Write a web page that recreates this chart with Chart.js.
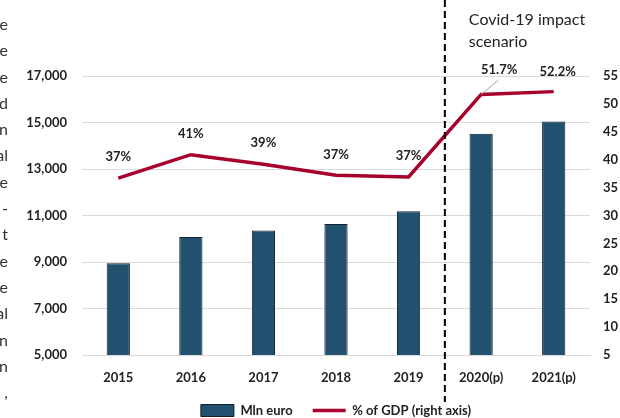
<!DOCTYPE html>
<html>
<head>
<meta charset="utf-8">
<script src="https://cdn.jsdelivr.net/npm/chart.js@4.4.0/dist/chart.umd.min.js"></script>
<style>
body { margin: 0; background: #fff; }
#wrap { position: relative; width: 620px; height: 418px; overflow: hidden; }
#gdpChart { position: absolute; left: 0; top: 0; }
#side { position: absolute; left: -200px; top: 11px; width: 208px; text-align: right;
        font: 16px Lato, sans-serif; line-height: 26.3px; color: #333; }
</style>
</head>
<body>
<div id="wrap">
<canvas id="gdpChart" width="620" height="418"></canvas>
<div id="side">e<br>e<br>e<br>d<br>n<br>al<br>e<br>-<br>t<br>e<br>e<br>al<br>n<br>n<br>,</div>
</div>
<script>
var years = ['2015', '2016', '2017', '2018', '2019', '2020(p)', '2021(p)'];
var mlnEuro = [8950, 10070, 10350, 10630, 11180, 14520, 15040];
var pctGdp = [36.7, 40.9, 39.2, 37.2, 36.9, 51.7, 52.2];
var pctLabels = ['37%', '41%', '39%', '37%', '37%', '51.7%', '52.2%'];

var textColor = '#222';
var gridColor = '#d9d9d9';

// labels over the line, separator and covid note
var extras = {
    id: 'extras',
    afterDatasetsDraw: function(chart) {
        var ctx = chart.ctx;
        var xs = chart.scales.x;
        var pts = chart.getDatasetMeta(1).data;
        ctx.save();

        var sx = (xs.getPixelForValue(4) + xs.getPixelForValue(5)) / 2;
        ctx.strokeStyle = '#000';
        ctx.lineWidth = 2;
        ctx.setLineDash([7, 4]);
        ctx.beginPath();
        ctx.moveTo(sx, 0);
        ctx.lineTo(sx, 402);
        ctx.stroke();
        ctx.setLineDash([]);

        ctx.font = '16px Lato';
        ctx.fillStyle = textColor;
        ctx.textAlign = 'left';
        ctx.textBaseline = 'middle';
        ctx.fillText('Covid-19 impact', sx + 24, 20);
        ctx.fillText('scenario', sx + 24, 42);

        ctx.font = 'bold 13px Lato';
        ctx.textAlign = 'center';
        for (var i = 0; i < pts.length; i++) {
            var p = pts[i];
            var dx = 0, dy = -21;
            if (i == 5) {
                dx = 18; dy = -25;
                ctx.strokeStyle = '#a6a6a6';
                ctx.lineWidth = 1;
                ctx.beginPath();
                ctx.moveTo(p.x, p.y);
                ctx.lineTo(p.x + 17, p.y - 14);
                ctx.stroke();
            }
            if (i == 6) { dx = 4; dy = -20; }
            ctx.fillText(pctLabels[i], p.x + dx, p.y + dy);
        }
        ctx.restore();
    }
};

var ctx = document.getElementById('gdpChart').getContext('2d');
var gdpChart = new Chart(ctx, {
    type: 'bar',
    data: {
        labels: years,
        datasets: [{
            label: 'Mln euro',
            data: mlnEuro,
            backgroundColor: '#22506f',
            borderColor: '#0f1f2c',
            borderWidth: 1,
            barPercentage: 1,
            categoryPercentage: 0.32,
            pointStyle: 'rect',
            yAxisID: 'y'
        }, {
            type: 'line',
            label: '% of GDP (right axis)',
            data: pctGdp,
            borderColor: '#a8002c',
            backgroundColor: '#a8002c',
            borderWidth: 3.5,
            pointRadius: 0,
            pointStyle: 'line',
            tension: 0,
            yAxisID: 'y1'
        }]
    },
    options: {
        responsive: false,
        animation: false,
        layout: { padding: { top: 76, left: 0, right: 0, bottom: -9 } },
        plugins: {
            tooltip: { enabled: false },
            legend: {
                position: 'bottom',
                fullSize: false,
                labels: {
                    usePointStyle: true,
                    pointStyleWidth: 33,
                    boxHeight: 12,
                    padding: 20,
                    color: textColor,
                    font: { family: 'Lato', size: 13, weight: 'bold' }
                }
            }
        },
        scales: {
            x: {
                grid: { display: false, drawTicks: false },
                border: { color: gridColor },
                ticks: { padding: 15, color: textColor, font: { family: 'Lato', size: 13, weight: 'bold' } },
                afterFit: function(s) { s.height = 29; }
            },
            y: {
                position: 'left',
                min: 5000,
                max: 17000,
                grid: { color: gridColor, drawTicks: false },
                border: { display: false },
                ticks: {
                    stepSize: 2000,
                    padding: 15,
                    color: textColor,
                    font: { family: 'Lato', size: 13, weight: 'bold' },
                    callback: function(v) { return v.toLocaleString('en-US'); }
                },
                afterFit: function(s) { s.width = 82; }
            },
            y1: {
                position: 'right',
                min: 5,
                max: 55,
                grid: { drawOnChartArea: false, drawTicks: false },
                border: { display: false },
                ticks: { stepSize: 5, padding: 13, color: textColor, font: { family: 'Lato', size: 13, weight: 'bold' } },
                afterFit: function(s) { s.width = 30; }
            }
        }
    },
    plugins: [extras]
});
</script>
</body>
</html>
